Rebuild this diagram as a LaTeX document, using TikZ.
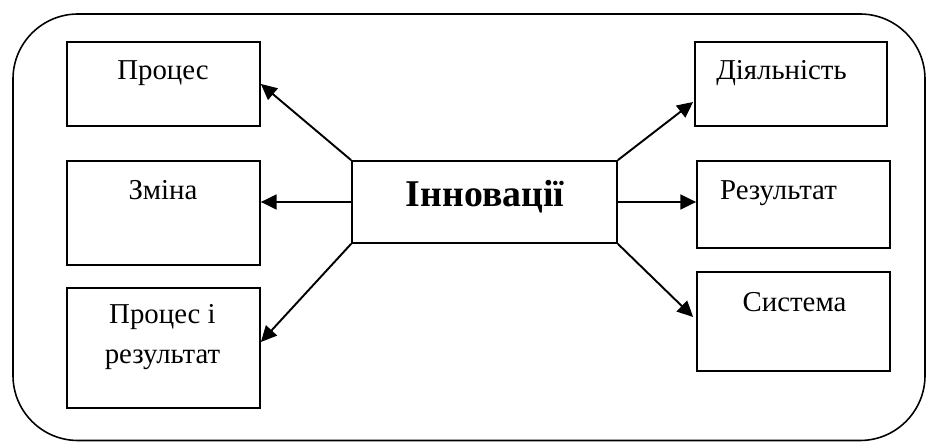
\documentclass[tikz,border=0pt]{standalone}
\usepackage{fontspec}
\setmainfont{Liberation Serif}
\usepackage{tikz}
\usetikzlibrary{arrows.meta, positioning, calc}

\tikzset{
  box/.style={draw, line width=1pt, minimum width=3.86cm, inner sep=0pt},
  lbl/.style={font=\fontsize{16.4}{22.7}\selectfont, anchor=base, align=center, inner sep=0pt},
  link/.style={line width=1.1pt, -{Triangle[length=9pt, width=8.5pt]}}
}

\begin{document}
\begin{tikzpicture}[x=1cm, y=1cm]
\useasboundingbox (0,0) rectangle (18.52,8.86);
% outer frame
\draw[line width=0.9pt, rounded corners=1.3cm] (0.26,0.05) rectangle (18.50,8.58);

% centre
\node[box, minimum width=5.3cm, minimum height=1.64cm] (innov) at (9.69,4.82) {};
\node[font=\fontsize{21.5}{26}\selectfont\bfseries, anchor=base, inner sep=0pt]
  (t-innov) at (9.70,4.73) {Інновації};

% left column
\node[box, minimum height=1.69cm] (proc) at (3.27,7.18) {};
\node[box, minimum height=2.09cm] (zmina) at (3.27,4.60) {};
\node[box, minimum height=2.40cm] (procres) at (3.27,1.90) {};
\node[lbl] (t-proc) at (3.26,7.26) {Процес};
\node[lbl] (t-zmina) at (3.26,4.86) {Зміна};
% base of a two-line node sits on its last line
\node[lbl] (t-procres) at (3.25,1.59) {Процес і\\результат};

% right column
\node[box, minimum width=3.84cm, minimum height=1.69cm] (dial) at (15.82,7.18) {};
\node[box, minimum height=1.74cm] (rez) at (15.87,4.77) {};
\node[box, minimum height=1.98cm] (sys) at (15.87,2.43) {};
\node[lbl] (t-dial) at (15.63,7.26) {Діяльність};
\node[lbl] (t-rez) at (15.57,4.86) {Результат};
\node[lbl] (t-sys) at (15.89,2.62) {Система};

% arrows
\draw[link] (innov.north west) -- (proc.east);
\draw[link] (innov.west) -- (innov.west -| zmina.east);
\draw[link] (innov.south west) -- ($(procres.east)+(0,0.12)$);
\draw[link] (innov.north east) -- ($(dial.west)+(-0.02,-0.36)$);
\draw[link] (innov.east) -- (innov.east -| rez.west);
\draw[link] (innov.south east) -- ($(sys.west)+(-0.06,0.09)$);
\end{tikzpicture}
\end{document}
